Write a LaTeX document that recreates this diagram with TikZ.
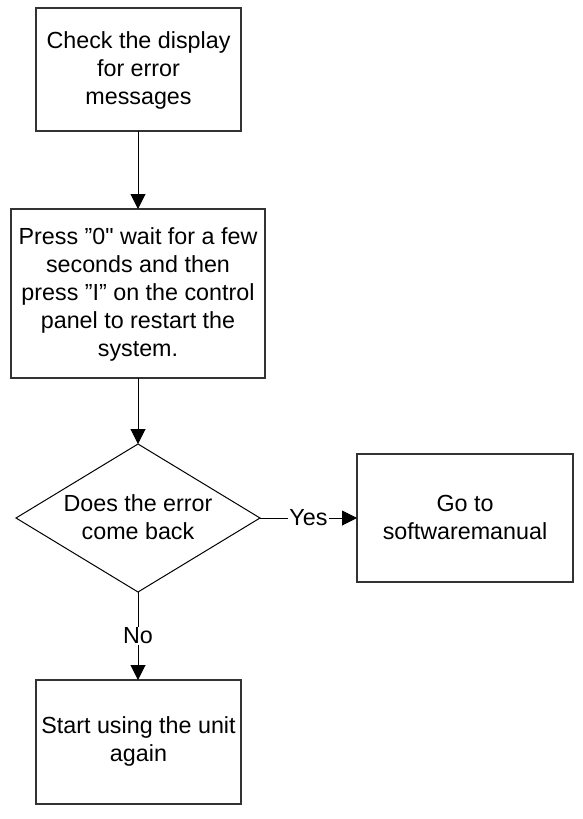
\documentclass[tikz,border=0pt]{standalone}
\usepackage{fontspec}
\setmainfont{Liberation Sans}
\newfontfamily\plainquote{Liberation Sans}[Ligatures=TeXOff]
\usetikzlibrary{shapes.geometric,arrows.meta}
\begin{document}
\begin{tikzpicture}[x=1pt,y=-1pt,
  boxline/.style={draw=black!80,line width=1.2pt},
  txt/.style={align=center,font=\fontsize{23.3}{28}\selectfont,inner sep=0pt},
  conn/.style={draw=black,line width=1pt,-{Triangle[length=15pt,width=15pt]}},
  lbl/.style={fill=white,font=\fontsize{23.3}{28}\selectfont,inner sep=1pt}]
\useasboundingbox (0,0) rectangle (583,819);
\draw[boxline] (36,8) rectangle (241,131);
\node[txt] (b1) at (138.5,70) {Check the display\\for error\\messages};
\coordinate (b1b) at (138,131);
\draw[boxline] (11,209) rectangle (265,378);
\node[txt] (b2) at (138,294) {Press ”0{\plainquote"} wait for a few\\seconds and then\\press ”I” on the control\\panel to restart the\\system.};
\coordinate (b2t) at (138,209);
\coordinate (b2b) at (138,378);
\draw[line width=1pt] (138,444) -- (260,518) -- (138,592) -- (16,518) -- cycle;
\node[txt] (d) at (138,517) {Does the error\\come back};
\coordinate (dt) at (138,444);
\coordinate (dr) at (260,518);
\coordinate (db) at (138,592);
\draw[boxline] (357,454) rectangle (573,582);
\node[txt] (b3) at (465,517) {Go to\\softwaremanual};
\coordinate (b3l) at (357,518);
\draw[boxline] (36,680) rectangle (241,804);
\node[txt] (b4) at (138.5,741) {Start using the unit\\again};
\coordinate (b4t) at (138,680);
\draw[conn] (b1b) -- (b2t);
\draw[conn] (b2b) -- (dt);
\draw[conn] (dr) -- node[lbl,pos=0.5] (yes) {Yes} (b3l);
\draw[conn] (db) -- node[lbl,pos=0.5] (no) {No} (b4t);
\end{tikzpicture}
\end{document}
